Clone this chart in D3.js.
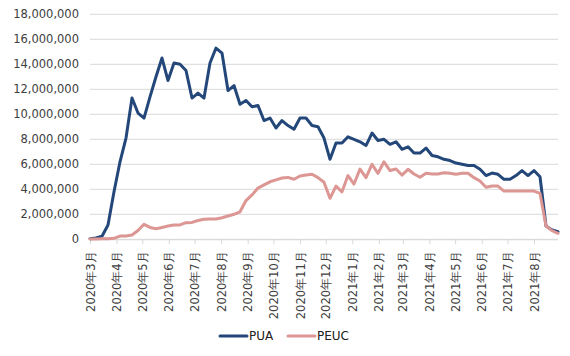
<!DOCTYPE html>
<html>
<head>
<meta charset="utf-8">
<script src="https://cdn.jsdelivr.net/npm/d3@7/dist/d3.min.js"></script>
<style>
  html, body { margin: 0; padding: 0; background: #fff; }
  svg { display: block; }
  text { font-family: "DejaVu Sans", sans-serif; fill: #404040; }
</style>
</head>
<body>
<script>
// ---- data (values in millions, weekly, starting week of 2020-03-07) ----
const startDate = "2020-03-07";
const seriesNames = ["PUA", "PEUC"];
const puaValues = [
  0.05, 0.1, 0.25, 1.15, 3.8, 6.2, 8.1, 11.3, 10.1, 9.7,
  11.4, 13.0, 14.5, 12.7, 14.1, 14.0, 13.5, 11.3, 11.7, 11.3,
  14.1, 15.3, 14.9, 11.9, 12.3, 10.8, 11.1, 10.6, 10.7, 9.5,
  9.7, 8.9, 9.5, 9.1, 8.8, 9.7, 9.7, 9.1, 9.0, 8.1,
  6.4, 7.7, 7.7, 8.2, 8.0, 7.8, 7.5, 8.5, 7.9, 8.0,
  7.6, 7.8, 7.2, 7.4, 6.9, 6.9, 7.3, 6.7, 6.6, 6.4,
  6.3, 6.1, 6.0, 5.9, 5.9, 5.6, 5.1, 5.3, 5.2, 4.8,
  4.8, 5.1, 5.5, 5.1, 5.5, 5.0, 1.06, 0.75, 0.6
];
const peucValues = [
  0.02, 0.03, 0.04, 0.05, 0.08, 0.26, 0.27, 0.35, 0.7, 1.2,
  0.95, 0.85, 0.95, 1.06, 1.15, 1.15, 1.33, 1.35, 1.5, 1.6,
  1.62, 1.62, 1.72, 1.86, 2.0, 2.2, 3.1, 3.55, 4.1, 4.35,
  4.6, 4.75, 4.9, 4.95, 4.8, 5.06, 5.14, 5.2, 4.93, 4.56,
  3.28, 4.26, 3.8, 5.1, 4.42, 5.62, 4.93, 6.0, 5.28, 6.2,
  5.5, 5.62, 5.14, 5.6, 5.22, 4.96, 5.28, 5.22, 5.22, 5.33,
  5.28, 5.2, 5.28, 5.28, 4.93, 4.66, 4.16, 4.26, 4.26, 3.86,
  3.86, 3.86, 3.86, 3.86, 3.86, 3.68, 1.06, 0.69, 0.48
];
const yTicks = [0, 2000000, 4000000, 6000000, 8000000, 10000000, 12000000, 14000000, 16000000, 18000000];
const xTickLabels = [
  "2020年3月", "2020年4月", "2020年5月", "2020年6月", "2020年7月", "2020年8月",
  "2020年9月", "2020年10月", "2020年11月", "2020年12月", "2021年1月", "2021年2月",
  "2021年3月", "2021年4月", "2021年5月", "2021年6月", "2021年7月", "2021年8月"
];
const colors = ["#24477a", "#dc9693"];

// ---- layout ----
const W = 570, H = 356;
const mLeft = 90, mRight = 558, mTop = 14.3, mBottom = 239.3;

const parse = d3.timeParse("%Y-%m-%d");
const d0 = parse(startDate);
const dates = puaValues.map((_, i) => d3.timeWeek.offset(d0, i));
const tickDates = xTickLabels.map((_, i) => d3.timeMonth.offset(d0, i));

const x = d3.scaleTime().domain([dates[0], dates[dates.length - 1]]).range([mLeft, mRight]);
const y = d3.scaleLinear().domain([0, 18000000]).range([mBottom, mTop]);

const svg = d3.select("body").append("svg").attr("width", W).attr("height", H);

// gridlines
svg.append("g").selectAll("line").data(yTicks).join("line")
  .attr("x1", mLeft).attr("x2", mRight)
  .attr("y1", d => y(d)).attr("y2", d => y(d))
  .attr("stroke", "#d9d9d9").attr("stroke-width", 1);

// y axis
const yAxis = svg.append("g").attr("transform", `translate(${mLeft},0)`)
  .call(d3.axisLeft(y).tickValues(yTicks).tickFormat(d3.format(",")).tickSize(0).tickPadding(11));
yAxis.select(".domain").remove();
yAxis.selectAll("text").style("font-size", "11.5px").style("fill", "#404040")
  .style("font-family", "DejaVu Sans, sans-serif");

// x axis
const xAxis = svg.append("g").attr("transform", `translate(0,${mBottom})`)
  .call(d3.axisBottom(x).tickValues(tickDates).tickFormat((d, i) => xTickLabels[i]).tickSize(5).tickSizeOuter(0));
xAxis.select(".domain").attr("stroke", "#d9d9d9").attr("d", `M${mLeft},0.5H${mRight}`);
xAxis.selectAll(".tick line").attr("stroke", "#d9d9d9");
xAxis.selectAll("text")
  .style("font-size", "11.5px").style("fill", "#404040")
  .style("font-family", "DejaVu Sans, sans-serif")
  .attr("transform", "rotate(-90)")
  .attr("text-anchor", "end")
  .attr("x", -12).attr("y", 0).attr("dy", "0.35em");

// lines
const line = d3.line().x((d, i) => x(dates[i])).y(d => y(d * 1e6));
[puaValues, peucValues].forEach((vals, k) => {
  svg.append("path").datum(vals)
    .attr("fill", "none").attr("stroke", colors[k]).attr("stroke-width", 3)
    .attr("stroke-linejoin", "round").attr("stroke-linecap", "round")
    .attr("d", line);
});

// legend
const legendX = [220, 288];
const legend = svg.append("g");
seriesNames.forEach((name, k) => {
  const g = legend.append("g").attr("transform", `translate(${legendX[k]},336)`);
  g.append("line").attr("x1", 0).attr("x2", 27).attr("y1", 0).attr("y2", 0)
    .attr("stroke", colors[k]).attr("stroke-width", 3).attr("stroke-linecap", "round");
  g.append("text").attr("x", 29).attr("y", 0).attr("dy", "0.35em")
    .style("font-size", "12px").style("fill", "#202020").text(name);
});
</script>
</body>
</html>
